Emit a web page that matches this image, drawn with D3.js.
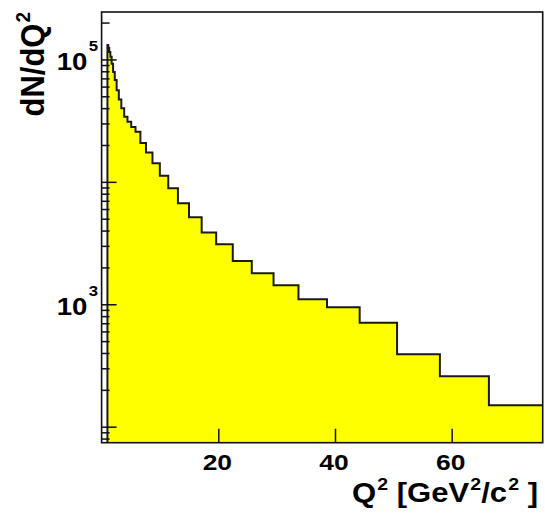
<!DOCTYPE html>
<html>
<head>
<meta charset="utf-8">
<script src="https://cdn.jsdelivr.net/npm/d3@7"></script>
<style>
  body { margin: 0; background: #fff; }
  text { font-family: "Liberation Sans", Arial, Helvetica, sans-serif; font-weight: bold; fill: #000; }
</style>
</head>
<body>
<svg id="chart" width="545" height="515"></svg>
<script>
// Q^2 bin edges (logarithmic binning, 32 bins from 1 to 76 GeV^2/c^2)
const binEdges = [1, 1.1449, 1.3109, 1.5008, 1.7184, 1.9674, 2.2525, 2.5789, 2.9527,
  3.3806, 3.8706, 4.4315, 5.0737, 5.8090, 6.6509, 7.6148, 8.7183, 9.9817, 11.428,
  13.084, 14.981, 17.151, 19.637, 22.483, 25.741, 29.471, 33.742, 38.632, 44.230,
  50.640, 57.979, 66.380, 76];

// dN/dQ^2 per bin
const dNdQ2 = [131000, 124000, 115000, 105000, 92000, 79000, 68000, 56000, 47000,
  40000, 34000, 31000, 28000, 25600, 20800, 17400, 14200, 11200, 8870, 6690, 5140,
  3850, 3090, 2260, 1790, 1430, 1100, 945, 708, 390, 258, 150];

const xTicks = [20, 40, 60];
const xTickLabels = ["20", "40", "60"];
const yMajorTicks = [1e2, 1e3, 1e4, 1e5];
const yMinorTicks = [80, 90, 200, 300, 400, 500, 600, 700, 800, 900,
  2000, 3000, 4000, 5000, 6000, 7000, 8000, 9000,
  20000, 30000, 40000, 50000, 60000, 70000, 80000, 90000, 200000];
const yLabelTicks = [1e3, 1e5];
const yLabelExponents = ["3", "5"];
const xTitle = "Q^{2} [GeV^{2}/c^{2} ]";
const yTitle = "dN/dQ^{2}";

const xDomain = [0, 75.6];
const yDomain = [74, 244000];

const frame = { left: 101.6, top: 12, right: 542.7, bottom: 442.7 };
const TEXT_SX = 1.2; // horizontal glyph stretch

const svg = d3.select("#chart");

const x = d3.scaleLinear().domain(xDomain).range([frame.left, frame.right]);
const y = d3.scaleLog().domain(yDomain).range([frame.bottom, frame.top]);

svg.append("defs").append("clipPath").attr("id", "plotClip")
  .append("rect")
  .attr("x", frame.left).attr("y", frame.top)
  .attr("width", frame.right - frame.left).attr("height", frame.bottom - frame.top);

// histogram as step points: each bin's left edge, plus the closing right edge
const steps = dNdQ2.map((v, i) => [binEdges[i], v]);
steps.push([binEdges[binEdges.length - 1], dNdQ2[dNdQ2.length - 1]]);

const plot = svg.append("g").attr("clip-path", "url(#plotClip)");

const area = d3.area()
  .x(d => x(d[0]))
  .y0(frame.bottom)
  .y1(d => y(d[1]))
  .curve(d3.curveStepAfter);

plot.append("path")
  .datum(steps)
  .attr("d", area)
  .attr("fill", "#ffff00")
  .attr("stroke", "none");

// outline, including the vertical edges down to the frame bottom
const line = d3.line()
  .x(d => x(d[0]))
  .y(d => y(d[1]))
  .curve(d3.curveStepAfter);
plot.append("path")
  .attr("d",
    "M" + x(binEdges[0]) + "," + frame.bottom +
    line(steps).replace(/^M/, "L") +
    "L" + x(binEdges[binEdges.length - 1]) + "," + frame.bottom)
  .attr("fill", "none")
  .attr("stroke", "#1a1a1a")
  .attr("stroke-width", 2)
  .attr("stroke-linejoin", "miter");

// frame
svg.append("rect")
  .attr("x", frame.left).attr("y", frame.top)
  .attr("width", frame.right - frame.left).attr("height", frame.bottom - frame.top)
  .attr("fill", "none").attr("stroke", "#111").attr("stroke-width", 1.6);

// axes: ticks point into the frame
const yMajorAxis = d3.axisLeft(y).tickValues(yMajorTicks).tickSizeInner(-15).tickSizeOuter(0).tickFormat("");
const yMinorAxis = d3.axisLeft(y).tickValues(yMinorTicks).tickSizeInner(-8).tickSizeOuter(0).tickFormat("");
const xAxis = d3.axisBottom(x).tickValues(xTicks).tickSizeInner(-14).tickSizeOuter(0).tickFormat("");

[yMajorAxis, yMinorAxis].forEach(ax => {
  const g = svg.append("g").attr("transform", `translate(${frame.left},0)`).call(ax);
  g.select(".domain").remove();
  g.selectAll("line").attr("stroke", "#111").attr("stroke-width", 1.5);
});
{
  const g = svg.append("g").attr("transform", `translate(0,${frame.bottom})`).call(xAxis);
  g.select(".domain").remove();
  g.selectAll("line").attr("stroke", "#111").attr("stroke-width", 1.5);
}

// text with ^{...} superscripts
function richText(sel, str, size, supSize, rise) {
  const parts = str.split(/(\^\{[^}]*\})/).filter(s => s.length);
  let raised = false;
  parts.forEach(p => {
    const m = p.match(/^\^\{([^}]*)\}$/);
    if (m) {
      sel.append("tspan").attr("font-size", supSize).attr("dx", 1).attr("dy", -rise).text(m[1]);
      raised = true;
    } else {
      const t = sel.append("tspan").attr("font-size", size).text(p);
      if (raised) { t.attr("dy", rise); raised = false; }
    }
  });
}

// y labels 10^n
yLabelTicks.forEach((v, i) => {
  const t = svg.append("text")
    .attr("text-anchor", "end")
    .attr("transform", `translate(98,${y(v) + 10.5}) scale(${TEXT_SX},1)`);
  richText(t, "10^{" + yLabelExponents[i] + "}", 23, 14, 19);
});

// x labels
xTicks.forEach((v, i) => {
  svg.append("text")
    .attr("text-anchor", "middle")
    .attr("font-size", 22)
    .attr("transform", `translate(${x(v) - 1},470) scale(${TEXT_SX},1)`)
    .text(xTickLabels[i]);
});

// axis titles
{
  const t = svg.append("text")
    .attr("text-anchor", "end")
    .attr("transform", `translate(538,502) scale(1.15,1)`);
  richText(t, xTitle, 27, 17, 12);
}
{
  const t = svg.append("text")
    .attr("text-anchor", "end")
    .attr("transform", `translate(44,12) scale(1.05,1) rotate(-90)`);
  richText(t, yTitle, 31, 19, 13);
}
</script>
</body>
</html>
